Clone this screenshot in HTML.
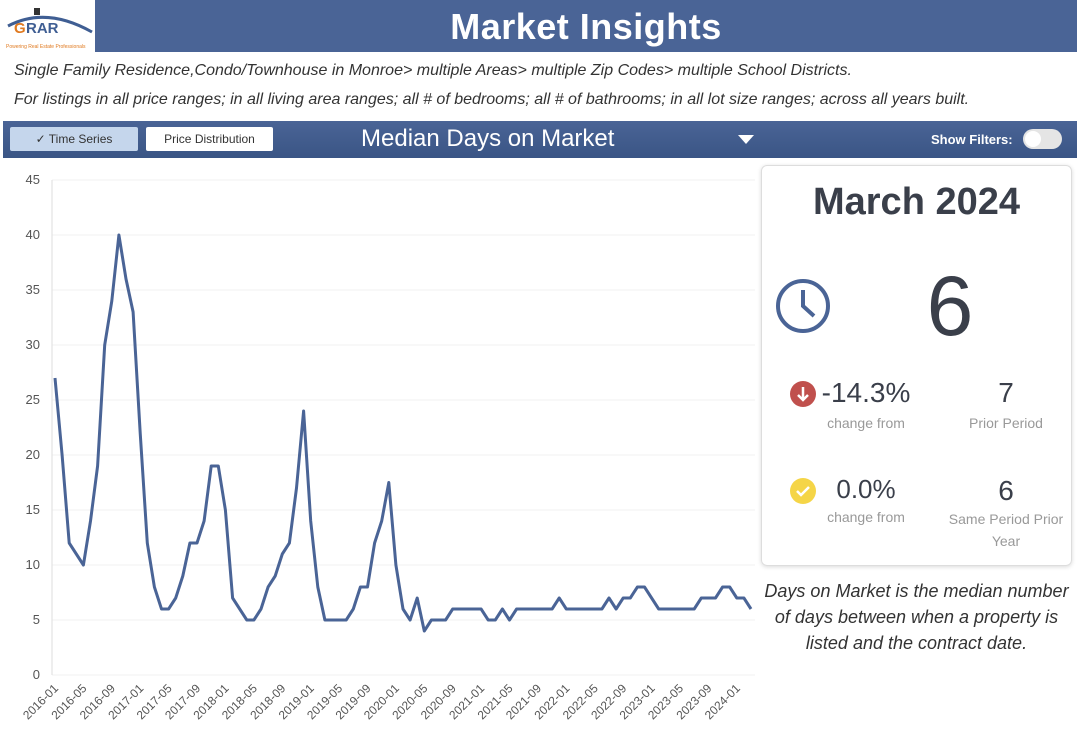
<!DOCTYPE html>
<html><head><meta charset="utf-8"><style>
body{margin:0;width:1080px;height:740px;background:#fff;font-family:"Liberation Sans",sans-serif;position:relative;overflow:hidden}
.a{position:absolute}
.it{font-style:italic;color:#333;font-size:16px}
.card{left:761px;top:165px;width:309px;height:399px;border:1px solid #ddd;border-radius:6px;box-shadow:0 1px 4px rgba(0,0,0,.15)}
.c{text-align:center;color:#3a3f4a}
.g{color:#999;font-size:14px}
</style></head><body>
<div class="a" style="left:95px;top:0;width:982px;height:52px;background:#4a6496"></div>
<div class="a" style="left:95px;top:3px;width:982px;text-align:center;color:#fff;font-size:36px;line-height:48px;font-weight:bold;letter-spacing:0.5px">Market Insights</div>
<div class="a" style="left:6px;top:6px;width:88px;height:44px">
<svg width="88" height="44"><path d="M2 20 Q40 0 86 26" stroke="#3f5e93" stroke-width="3" fill="none"/><rect x="28" y="2" width="6" height="7" fill="#333"/><text x="8" y="27" font-size="15" font-weight="bold" fill="#e07a20" font-family="Liberation Sans">G</text><text x="20" y="27" font-size="15" font-weight="bold" fill="#3f5e93" font-family="Liberation Sans">RAR</text><text x="0" y="42" font-size="5" fill="#e07a20" font-family="Liberation Sans">Powering Real Estate Professionals</text></svg></div>
<div class="a it" style="left:14px;top:62px">Single Family Residence,Condo/Townhouse in Monroe&gt; multiple Areas&gt; multiple Zip Codes&gt; multiple School Districts.</div>
<div class="a it" style="left:14px;top:91px">For listings in all price ranges; in all living area ranges; all # of bedrooms; all # of bathrooms; in all lot size ranges; across all years built.</div>
<div class="a" style="left:3px;top:121px;width:1074px;height:37px;background:linear-gradient(#4a6496,#3a5585)"></div>
<div class="a" style="left:10px;top:127px;width:128px;height:24px;background:#c5d6ec;border-radius:2px;font-size:12px;color:#333;text-align:center;line-height:24px">✓ Time Series</div>
<div class="a" style="left:146px;top:127px;width:127px;height:24px;background:#fff;border-radius:2px;font-size:12px;color:#333;text-align:center;line-height:24px">Price Distribution</div>
<div class="a" style="left:361px;top:125px;color:#fff;font-size:24px">Median Days on Market</div>
<div class="a" style="left:738px;top:135px;width:0;height:0;border-left:8px solid transparent;border-right:8px solid transparent;border-top:9px solid #fff"></div>
<div class="a" style="left:931px;top:132px;color:#fff;font-size:13px;font-weight:bold">Show Filters:</div>
<div class="a" style="left:1023px;top:129px;width:39px;height:20px;border-radius:10px;background:#e5e5e5"></div>
<div class="a" style="left:1025px;top:131px;width:16px;height:16px;border-radius:8px;background:#fff"></div>
<svg class="a" style="left:0;top:160px" width="760" height="580" id="ch"></svg>
<div class="a card"></div>
<div class="a c" style="left:761px;top:181px;width:311px;font-size:38px;font-weight:bold">March 2024</div>
<svg class="a" style="left:774px;top:277px" width="58" height="58"><circle cx="29" cy="29" r="25" stroke="#4a6496" stroke-width="4" fill="none"/><path d="M29 13 V29 L40 39" stroke="#4a6496" stroke-width="4" fill="none"/></svg>
<div class="a c" style="left:880px;top:258px;width:140px;font-size:84px">6</div>
<svg class="a" style="left:790px;top:381px" width="26" height="26"><circle cx="13" cy="13" r="13" fill="#c0504d"/><path d="M13 6 V19 M8 14 L13 19 L18 14" stroke="#fff" stroke-width="2.5" fill="none"/></svg>
<div class="a c" style="left:806px;top:377px;width:120px;font-size:28px">-14.3%</div>
<div class="a c g" style="left:806px;top:415px;width:120px;color:#999">change from</div>
<div class="a c" style="left:946px;top:377px;width:120px;font-size:28px">7</div>
<div class="a c g" style="left:946px;top:415px;width:120px;color:#999">Prior Period</div>
<svg class="a" style="left:790px;top:478px" width="26" height="26"><circle cx="13" cy="13" r="13" fill="#f5d547"/><path d="M7 13 L11 17 L19 9" stroke="#fff" stroke-width="2.5" fill="none"/></svg>
<div class="a c" style="left:806px;top:474px;width:120px;font-size:26px">0.0%</div>
<div class="a c g" style="left:806px;top:509px;width:120px;color:#999">change from</div>
<div class="a c" style="left:946px;top:475px;width:120px;font-size:28px">6</div>
<div class="a c g" style="left:941px;top:508px;width:130px;color:#999;line-height:22px">Same Period Prior Year</div>
<div class="a" style="left:761px;top:578px;width:311px;text-align:center;font-style:italic;font-size:18px;color:#333;line-height:26px">Days on Market is the median number of days between when a property is listed and the contract date.</div>
<script>
var d=[27,20,12,11,10,14,19,30,34,40,36,33,22,12,8,6,6,7,9,12,12,14,19,19,15,7,6,5,5,6,8,9,11,12,17,24,14,8,5,5,5,5,6,8,8,12,14,17.5,10,6,5,7,4,5,5,5,6,6,6,6,6,5,5,6,5,6,6,6,6,6,6,7,6,6,6,6,6,6,7,6,7,7,8,8,7,6,6,6,6,6,6,7,7,7,8,8,7,7,6];
var s='',oy=-160,x0=55,dx=(751-55)/98;
function Y(v){return 675-v*11+oy}
for(var v=0;v<=45;v+=5){s+='<line x1="52" x2="755" y1="'+Y(v)+'" y2="'+Y(v)+'" stroke="#f2f2f2"/>';s+='<text x="40" y="'+(Y(v)+4)+'" text-anchor="end" font-size="13" fill="#555" font-family="Liberation Sans">'+v+'</text>';}
s+='<line x1="52" x2="52" y1="'+Y(45)+'" y2="'+Y(0)+'" stroke="#ddd"/>';
var p='';d.forEach(function(v,i){p+=(i?'L':'M')+(x0+i*dx).toFixed(1)+' '+Y(v)+' ';});
s+='<path d="'+p+'" stroke="#4a6496" stroke-width="3" fill="none" stroke-linejoin="round"/>';
for(var i=0;i<=96;i+=4){var yr=2016+Math.floor(i/12),m=i%12+1;var x=x0+i*dx+4,y=Y(0)+14;s+='<text transform="translate('+x+','+y+') rotate(-45)" text-anchor="end" font-size="12" fill="#555" font-family="Liberation Sans">'+yr+'-'+(m<10?'0':'')+m+'</text>';}
document.getElementById('ch').innerHTML=s;
</script>
</body></html>
